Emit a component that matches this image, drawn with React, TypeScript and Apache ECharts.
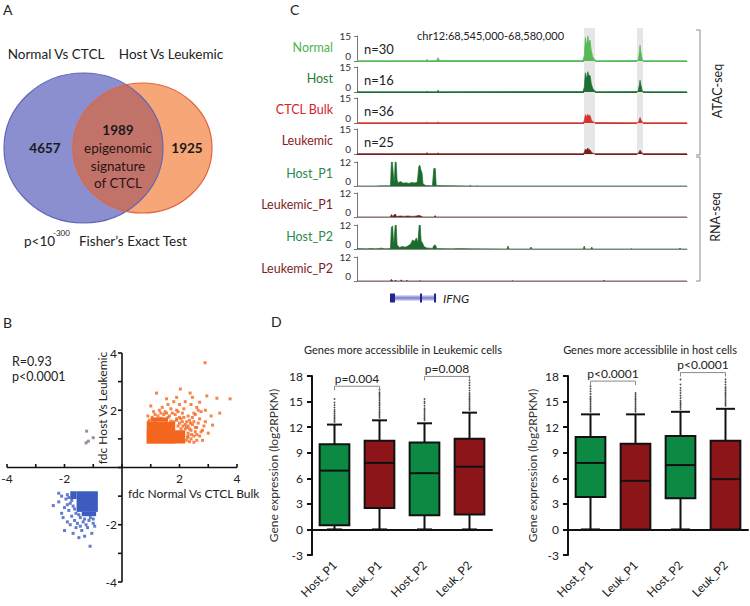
import React, { useEffect, useRef } from "react";
import * as echarts from "echarts";

const FONT = 'Lato, "Open Sans", Arial, sans-serif';

// ---------------- Panel A : Venn ----------------
const vennSetNames = ["Normal Vs CTCL", "Host Vs Leukemic"];
const vennCounts = [4657, 1989, 1925];
const vennOverlapLabel = ["epigenomic", "signature", "of CTCL"];
const vennTestText = ["p<10", "-300", "Fisher\u2019s Exact Test"];

// ---------------- Panel B : scatter ----------------
const scatterStats = ["R=0.93", "p<0.0001"];
const scatterAxisNames = ["fdc Normal Vs CTCL Bulk", "fdc Host Vs Leukemic"];
const scatterTicks = [-4, -3, -2, -1, 0, 1, 2, 3, 4];
const upCore = [
  [[0.86, 0.84], [1.85, 1.6]],
  [[0.86, 0.84], [2.2, 1.3]],
  [[1.0, 1.6], [1.6, 1.75]],
];
const upPoints = [
  [2.89, 3.66], [3.76, 2.4], [3.3, 2.42], [3.15, 1.48], [2.7, 2.28], [2.03, 2.74], [2.37, 2.6], [1.2, 2.6],
  [2.9, 2.0], [2.6, 2.1], [2.5, 1.9], [2.2, 2.3], [2.4, 2.2], [2.0, 2.2], [1.8, 2.3], [1.6, 2.2], [1.4, 2.1],
  [1.3, 2.0], [1.1, 1.95], [1.5, 1.95], [1.7, 2.05], [1.9, 2.0], [2.1, 1.9], [2.3, 1.8], [2.5, 1.6], [2.7, 1.7],
  [2.8, 1.3], [2.6, 1.4], [2.4, 1.3], [2.3, 1.1], [2.25, 0.95], [2.5, 1.1], [2.9, 1.6], [3.0, 1.2], [2.1, 1.6],
  [2.0, 1.75], [1.9, 1.7], [2.2, 1.5], [1.05, 1.75], [1.25, 1.8], [0.95, 1.65], [1.45, 1.85], [1.65, 1.8],
  [1.85, 1.85], [2.15, 2.05], [2.75, 1.95], [2.45, 2.45], [2.65, 2.0], [3.1, 1.8], [2.35, 1.65], [1.8, 1.6],
  [1.95, 1.45], [2.05, 1.35], [2.3, 1.45], [2.4, 1.0], [2.55, 1.25], [2.2, 1.35], [1.6, 1.75], [1.35, 1.72],
  [1.15, 1.62], [0.92, 1.58], [2.0, 1.55], [1.7, 1.62], [2.6, 0.95], [2.7, 1.1], [1.55, 2.4], [1.9, 2.45],
  [1.0, 2.15], [2.95, 2.5], [3.4, 1.9], [2.25, 1.4], [2.3, 1.2], [2.35, 0.9], [2.45, 1.5], [2.5, 0.88],
  [2.6, 1.15], [2.65, 1.55], [2.75, 1.25], [2.8, 0.95], [2.85, 1.45], [1.9, 1.65], [2.05, 1.7], [2.15, 1.75],
  [1.75, 1.9], [1.55, 1.9], [1.35, 1.9], [1.15, 1.85], [0.9, 1.8], [1.95, 1.95], [2.25, 1.6], [2.45, 1.75],
  [2.55, 1.85], [2.35, 1.35], [2.42, 1.15], [2.28, 1.05], [2.55, 1.4], [2.38, 1.55], [2.12, 1.45],
];
const downCore = [
  [[-1.58, -0.83], [-0.84, -1.55]],
  [[-1.8, -0.83], [-1.58, -1.1]],
  [[-1.4, -1.55], [-0.9, -1.7]],
];
const downPoints = [
  [-2.39, -1.33], [-1.11, -2.75], [-2.0, -2.2], [-1.9, -1.9], [-1.8, -2.0], [-1.7, -2.3], [-1.5, -2.45],
  [-1.3, -2.4], [-1.05, -2.3], [-1.2, -2.1], [-1.4, -2.2], [-1.6, -2.1], [-2.1, -1.6], [-2.2, -1.2],
  [-2.0, -1.4], [-1.95, -1.1], [-2.1, -1.0], [-1.85, -1.5], [-1.75, -1.7], [-1.65, -1.85], [-1.55, -1.95],
  [-1.35, -1.9], [-1.15, -1.85], [-1.0, -1.95], [-1.25, -2.0], [-1.45, -1.75], [-1.6, -1.6], [-1.8, -1.25],
  [-1.9, -1.3], [-2.05, -1.75], [-1.0, -1.8], [-1.1, -1.75], [-1.3, -1.8], [-1.5, -1.65], [-1.75, -1.15],
  [-1.9, -0.95], [-1.7, -1.35], [-1.65, -1.45], [-2.2, -0.9], [-1.85, -1.05], [-0.95, -2.05], [-1.45, -2.05],
];
const discordantPoints = [[-1.23, 1.27], [-1.17, 0.92], [-1.0, 1.04], [-1.25, 0.86]];

// ---------------- Panel C : tracks ----------------
const locusLabel = "chr12:68,545,000-68,580,000";
const locusRange = [68545, 68580];
const trackNames = ["Normal", "Host", "CTCL Bulk", "Leukemic", "Host_P1", "Leukemic_P1", "Host_P2", "Leukemic_P2"];
const trackCounts = ["n=30", "n=16", "n=36", "n=25"];
const trackMax = [15, 15, 15, 15, 12, 12, 12, 12];
const assayNames = ["ATAC-seq", "RNA-seq"];

const normalAtac = [
  [68545.0, 0.2], [68548.0, 0.2], [68552.3, 0.2], [68552.42, 1.0], [68552.55, 0.2], [68553.45, 0.3],
  [68553.6, 2.0], [68553.75, 0.3], [68568.95, 0.3], [68569.1, 3.0], [68569.22, 14.0], [68569.35, 9.0],
  [68569.48, 15.0], [68569.6, 11.0], [68569.72, 12.5], [68569.85, 6.0], [68570.0, 2.5], [68570.2, 0.8],
  [68570.4, 0.2], [68574.8, 0.3], [68574.92, 4.0], [68575.02, 9.5], [68575.12, 5.0], [68575.25, 1.0],
  [68575.4, 0.2], [68580.0, 0.2],
];
const hostAtac = [
  [68545.0, 0.2], [68548.0, 0.2], [68552.3, 0.2], [68552.42, 0.5], [68552.55, 0.2], [68553.45, 0.2],
  [68553.6, 1.0], [68553.75, 0.2], [68568.95, 0.3], [68569.1, 2.5], [68569.22, 11.5], [68569.35, 8.0],
  [68569.48, 12.2], [68569.6, 9.5], [68569.72, 10.0], [68569.85, 5.0], [68570.0, 2.2], [68570.2, 0.7],
  [68570.4, 0.2], [68574.8, 0.3], [68574.92, 3.5], [68575.02, 7.0], [68575.12, 4.0], [68575.25, 0.8],
  [68575.4, 0.2], [68580.0, 0.2],
];
const ctclAtac = [
  [68545.0, 0.2], [68548.0, 0.2], [68552.3, 0.2], [68552.42, 0.5], [68552.55, 0.2], [68553.45, 0.2],
  [68553.6, 0.6], [68553.75, 0.2], [68568.95, 0.2], [68569.1, 1.2], [68569.22, 5.0], [68569.35, 3.5],
  [68569.48, 5.2], [68569.6, 4.2], [68569.72, 4.5], [68569.85, 2.0], [68570.0, 0.8], [68570.2, 0.3],
  [68574.8, 0.2], [68574.92, 1.5], [68575.02, 3.3], [68575.12, 2.0], [68575.25, 0.5], [68575.4, 0.2],
  [68580.0, 0.2],
];
const leukAtac = [
  [68545.0, 0.2], [68548.0, 0.2], [68552.3, 0.2], [68552.42, 0.8], [68552.55, 0.2], [68553.45, 0.2],
  [68553.6, 0.6], [68553.75, 0.2], [68568.95, 0.2], [68569.1, 0.8], [68569.22, 3.0], [68569.35, 2.2],
  [68569.48, 3.6], [68569.6, 2.6], [68569.72, 2.4], [68569.85, 1.2], [68570.0, 0.5], [68570.2, 0.2],
  [68574.8, 0.2], [68574.92, 1.2], [68575.02, 2.3], [68575.12, 1.5], [68575.25, 0.4], [68575.4, 0.2],
  [68580.0, 0.2],
];
const hostP1Rna = [
  [68545.0, 0], [68547.0, 0], [68547.5, 0.1], [68548.55, 0.1], [68548.65, 12], [68548.75, 12], [68548.85, 6],
  [68548.95, 1], [68549.05, 12], [68549.15, 12], [68549.25, 3], [68549.35, 1.5], [68549.6, 2.2], [68549.9, 1.4],
  [68550.2, 1.6], [68550.5, 1.3], [68550.8, 1.7], [68551.1, 1.5], [68551.4, 1.9], [68551.55, 9.5],
  [68551.65, 10.5], [68551.78, 8], [68551.9, 6.5], [68552.0, 1], [68552.3, 0.2], [68553.0, 0.1],
  [68553.15, 8.8], [68553.3, 8.8], [68553.4, 0.2], [68556.9, 0], [68557.0, 0.4], [68557.1, 0],
  [68557.65, 0], [68557.73, 0.3], [68557.8, 0], [68580.0, 0],
];
const leukP1Rna = [
  [68545.0, 0], [68548.55, 0], [68548.65, 1.2], [68548.8, 0.3], [68549.05, 1.5], [68549.2, 0.2], [68549.6, 0.5],
  [68550.0, 0.3], [68550.4, 0.5], [68550.8, 0.3], [68551.2, 0.4], [68551.6, 0.8], [68551.8, 0.4], [68552.0, 0],
  [68553.15, 0], [68553.3, 0.7], [68553.4, 0], [68580.0, 0],
];
const hostP2Rna = [
  [68545.0, 0.2], [68546.0, 0.1], [68546.5, 0.3], [68547.0, 0.1], [68547.6, 0.4], [68548.0, 0.1], [68548.55, 0.2],
  [68548.65, 11], [68548.78, 11.5], [68548.9, 1], [68549.05, 12], [68549.15, 12], [68549.25, 2], [68549.5, 0.8],
  [68549.8, 1.2], [68550.1, 0.9], [68550.4, 1.5], [68550.7, 2.5], [68550.9, 4.5], [68551.1, 3.8], [68551.3, 5.5],
  [68551.45, 3], [68551.6, 12], [68551.7, 12], [68551.8, 4], [68551.95, 3], [68552.1, 1.2], [68552.4, 0.5],
  [68553.0, 0.3], [68553.2, 2.0], [68553.35, 1.8], [68553.45, 0.2], [68555.0, 0.1], [68556.0, 0.2], [68557.0, 0.1],
  [68560.9, 0], [68561.02, 1.5], [68561.12, 0], [68563.35, 0], [68563.45, 1.0], [68563.55, 0], [68569.0, 0],
  [68569.1, 1.5], [68569.2, 0], [68569.8, 0], [68569.9, 1.0], [68570.0, 0], [68574.0, 0], [68574.1, 0.2],
  [68574.2, 0], [68579.1, 0], [68579.26, 0.4], [68579.4, 0], [68580.0, 0],
];
const leukP2Rna = [
  [68545.0, 0], [68548.55, 0], [68548.65, 0.8], [68548.8, 0], [68549.0, 0], [68549.1, 0.5], [68549.2, 0],
  [68549.6, 0], [68549.7, 0.6], [68549.8, 0], [68550.2, 0], [68550.3, 0.4], [68550.4, 0], [68551.6, 0],
  [68551.7, 0.3], [68551.8, 0], [68561.4, 0], [68561.5, 0.3], [68561.6, 0], [68571.1, 0], [68571.2, 0.4],
  [68571.3, 0], [68580.0, 0],
];
const trackSignals = [normalAtac, hostAtac, ctclAtac, leukAtac, hostP1Rna, leukP1Rna, hostP2Rna, leukP2Rna];
const highlightRegions = [[68569.08, 68570.24], [68574.7, 68575.33]];
const geneName = "IFNG";
const geneSpan = [68548.5, 68553.38];
const geneExons = [[68548.5, 68549.03], [68551.68, 68551.89], [68553.17, 68553.38]];

// ---------------- Panel D : box plots ----------------
const boxTitles = ["Genes more accessiblile in Leukemic cells", "Genes more accessiblile in host cells"];
const boxYName = "Gene expression (log2RPKM)";
const boxCategories = ["Host_P1", "Leuk_P1", "Host_P2", "Leuk_P2"];
// [min, Q1, median, Q3, max]
const leukBoxStats = [
  [0, 0.5, 6.9, 10.0, 12.3],
  [0, 2.5, 7.8, 10.4, 12.8],
  [0, 1.65, 6.6, 10.2, 12.45],
  [0, 1.75, 7.35, 10.65, 13.7],
];
const hostBoxStats = [
  [0, 3.8, 7.8, 10.85, 13.5],
  [0, 0, 5.7, 10.05, 13.5],
  [0, 3.65, 7.55, 10.95, 13.8],
  [0, 0, 5.9, 10.4, 14.15],
];
const leukOutliers = [
  [12.6, 12.8, 13.0, 13.2, 13.4, 13.6, 13.8, 14.0, 14.3, 14.6, 14.9, 15.3],
  [13.1, 13.3, 13.5, 13.7, 13.9, 14.1, 14.3, 14.5, 14.7, 14.9, 15.1, 15.3, 15.5, 15.7, 15.9, 16.1, 16.4],
  [12.8, 13.0, 13.2, 13.4, 13.6, 13.8, 14.0, 14.2, 14.5, 14.8, 15.0, 15.3],
  [14.0, 14.2, 14.4, 14.6, 14.8, 15.0, 15.2, 15.4, 15.6, 15.8, 16.0, 16.3, 16.6, 16.9, 17.2, 17.5, 17.9],
];
const hostOutliers = [
  [13.8, 14.0, 14.2, 14.4, 14.6, 14.8, 15.0, 15.2, 15.4, 15.6, 15.9, 16.2, 16.5, 16.8],
  [13.8, 14.0, 14.2, 14.4, 14.6, 14.8, 15.0, 15.2, 15.4, 15.6, 15.8, 16.0],
  [14.1, 14.3, 14.5, 14.7, 14.9, 15.1, 15.4, 15.7, 16.0, 16.3, 16.6, 17.0, 17.6],
  [14.5, 14.7, 14.9, 15.1, 15.3, 15.5, 15.7, 15.9, 16.1, 16.3, 16.5, 16.7, 17.0, 17.3, 17.6],
];
const leukPairs = [[0, 1, 16.8], [2, 3, 17.95]];
const leukPLabels = ["p=0.004", "p=0.008"];
const hostPairs = [[0, 1, 17.4], [2, 3, 18.4]];
const hostPLabels = ["p<0.0001", "p<0.0001"];

// ---------------- styles ----------------
const trackColors = ["#55b956", "#1f6e32", "#d2352f", "#7a1c1c", "#1a6b2c", "#6e1a1a", "#1a6b2c", "#6e1a1a"];
const trackLabelColors = ["#4db34f", "#2a7a3c", "#d2232a", "#8b1c1c", "#2a8a4a", "#7b1f1f", "#2a8a4a", "#7b1f1f"];
const trackBaseline = [61, 92, 123, 154, 186, 217, 249, 281];
const boxColors = ["#0c8a43", "#8c1519", "#0c8a43", "#8c1519"];

function txt(text: string, x: number, y: number, o: any = {}) {
  const align = o.align || "center";
  const va = o.va || "middle";
  return {
    type: "text",
    x,
    y,
    rotation: o.rotation || 0,
    silent: true,
    z: 50,
    style: {
      text,
      fontSize: o.size || 12,
      fontFamily: FONT,
      fontWeight: o.weight || "normal",
      fontStyle: o.fontStyle || "normal",
      fill: o.color || "#222",
      align,
      textAlign: align,
      verticalAlign: va,
      textVerticalAlign: va,
    },
  };
}

function textEl(text: string, x: number, y: number, align: string, va: string, size = 12) {
  return {
    type: "text",
    x,
    y,
    style: {
      text,
      fontSize: size,
      fontFamily: FONT,
      fill: "#222",
      align,
      textAlign: align,
      verticalAlign: va,
      textVerticalAlign: va,
    },
  };
}

// Venn geometry
const blueE = { cx: 83.5, cy: 148, rx: 79.5, ry: 75 };
const orangeE = { cx: 142.5, cy: 148, rx: 69.5, ry: 65 };
function inside(e: any, x: number, y: number) {
  const dx = (x - e.cx) / e.rx;
  const dy = (y - e.cy) / e.ry;
  return dx * dx + dy * dy <= 1;
}
function lensPoints() {
  const a: number[][] = [];
  for (let k = 0; k <= 720; k++) {
    const t = (k / 720) * Math.PI * 2;
    const x = orangeE.cx + orangeE.rx * Math.cos(t);
    const y = orangeE.cy + orangeE.ry * Math.sin(t);
    if (inside(blueE, x, y)) a.push([x, y]);
  }
  const b: number[][] = [];
  for (let k = 0; k <= 720; k++) {
    const t = -Math.PI + (k / 720) * Math.PI * 2;
    const x = blueE.cx + blueE.rx * Math.cos(t);
    const y = blueE.cy + blueE.ry * Math.sin(t);
    if (inside(orangeE, x, y)) b.push([x, y]);
  }
  return a.concat(b);
}

function crossAxesRender(params: any, api: any) {
  const v = api.value(0);
  const lo = scatterTicks[0];
  const hi = scatterTicks[scatterTicks.length - 1];
  const ls = { stroke: "#111", lineWidth: 1.6 };
  const children: any[] = [];
  const px = api.coord([v, 0]);
  const py = api.coord([0, v]);
  children.push({ type: "line", shape: { x1: px[0], y1: px[1], x2: px[0], y2: px[1] - 3.5 }, style: ls });
  children.push({ type: "line", shape: { x1: py[0] - 4, y1: py[1], x2: py[0], y2: py[1] }, style: ls });
  if (v !== 0 && v % 2 === 0) {
    children.push(textEl(String(v), px[0], px[1] + 5, "center", "top"));
    children.push(textEl(String(v), py[0] - 5, py[1], "right", "middle"));
  }
  if (params.dataIndex === 0) {
    const a = api.coord([lo, 0]);
    const b = api.coord([hi, 0]);
    const c = api.coord([0, lo]);
    const d = api.coord([0, hi]);
    children.push({ type: "line", shape: { x1: a[0], y1: a[1], x2: b[0], y2: b[1] }, style: ls });
    children.push({ type: "line", shape: { x1: c[0], y1: c[1], x2: d[0], y2: d[1] }, style: ls });
  }
  return { type: "group", children };
}

function boxRender(capW: number) {
  return (params: any, api: any) => {
    const i = api.value(0);
    const pMin = api.coord([i, api.value(1)]);
    const pQ1 = api.coord([i, api.value(2)]);
    const pMed = api.coord([i, api.value(3)]);
    const pQ3 = api.coord([i, api.value(4)]);
    const pMax = api.coord([i, api.value(5)]);
    const band = api.size([1, 0])[0];
    const bw = band * 0.66;
    const x = pMin[0];
    const ls = { stroke: "#111", lineWidth: 2 };
    return {
      type: "group",
      children: [
        { type: "line", shape: { x1: x, y1: pMin[1], x2: x, y2: pQ1[1] }, style: ls },
        { type: "line", shape: { x1: x, y1: pQ3[1], x2: x, y2: pMax[1] }, style: ls },
        { type: "line", shape: { x1: x - capW / 2, y1: pMin[1], x2: x + capW / 2, y2: pMin[1] }, style: ls },
        { type: "line", shape: { x1: x - capW / 2, y1: pMax[1], x2: x + capW / 2, y2: pMax[1] }, style: ls },
        {
          type: "rect",
          shape: { x: x - bw / 2, y: pQ3[1], width: bw, height: Math.max(1, pQ1[1] - pQ3[1]) },
          style: { fill: boxColors[params.dataIndex], stroke: "#111", lineWidth: 2 },
        },
        { type: "line", shape: { x1: x - bw / 2, y1: pMed[1], x2: x + bw / 2, y2: pMed[1] }, style: ls },
      ],
    };
  };
}

function bracketRender(labels: string[]) {
  return (params: any, api: any) => {
    const a = api.coord([api.value(0), api.value(2)]);
    const b = api.coord([api.value(1), api.value(2)]);
    return {
      type: "group",
      children: [
        {
          type: "polyline",
          shape: { points: [[a[0], a[1] + 4], [a[0], a[1]], [b[0], b[1]], [b[0], b[1] + 4]] },
          style: { stroke: "#8a8a8a", lineWidth: 1, fill: null },
        },
        textEl(labels[params.dataIndex], (a[0] + b[0]) / 2, a[1] - 2, "center", "bottom"),
      ],
    };
  };
}

function buildOption() {
  const grids: any[] = [];
  const xAxes: any[] = [];
  const yAxes: any[] = [];
  const series: any[] = [];

  // ---- Panel B grid 0 (axes drawn crossing at zero by a custom series)
  grids.push({ left: 7, top: 353, width: 230, height: 229 });
  xAxes.push({ type: "value", gridIndex: 0, min: -4, max: 4, interval: 1, show: false });
  yAxes.push({ type: "value", gridIndex: 0, min: -4, max: 4, interval: 1, show: false });
  series.push({
    type: "custom",
    xAxisIndex: 0,
    yAxisIndex: 0,
    clip: false,
    silent: true,
    z: 4,
    data: scatterTicks.map((v) => [v]),
    encode: { x: 0 },
    renderItem: crossAxesRender,
  });
  series.push({
    type: "scatter",
    xAxisIndex: 0,
    yAxisIndex: 0,
    data: upPoints,
    symbol: "rect",
    symbolSize: 3,
    itemStyle: { color: "#f4661e" },
    markArea: {
      silent: true,
      itemStyle: { color: "#f4661e" },
      data: upCore.map((r) => [{ coord: r[0] }, { coord: r[1] }]),
    },
  });
  series.push({
    type: "scatter",
    xAxisIndex: 0,
    yAxisIndex: 0,
    data: downPoints,
    symbol: "rect",
    symbolSize: 3,
    itemStyle: { color: "#3c5cbf" },
    markArea: {
      silent: true,
      itemStyle: { color: "#3c5cbf" },
      data: downCore.map((r) => [{ coord: r[0] }, { coord: r[1] }]),
    },
  });
  series.push({
    type: "scatter",
    xAxisIndex: 0,
    yAxisIndex: 0,
    data: discordantPoints,
    symbol: "rect",
    symbolSize: 3,
    itemStyle: { color: "#8e6a8c" },
  });

  // ---- Panel C track grids 1..8
  for (let k = 0; k < 8; k++) {
    const h = k < 4 ? 25 : 24;
    const gi = grids.length;
    grids.push({ left: 357, width: 330, top: trackBaseline[k] - h, height: h });
    xAxes.push({
      type: "value",
      gridIndex: gi,
      min: locusRange[0],
      max: locusRange[1],
      axisLabel: { show: false },
      axisTick: { show: false },
      splitLine: { show: false },
      axisLine: { show: true, lineStyle: { color: k < 4 ? trackColors[k] : "#8a8a8a", width: 1 } },
    });
    yAxes.push({
      type: "value",
      gridIndex: gi,
      min: 0,
      max: trackMax[k],
      interval: trackMax[k],
      splitLine: { show: false },
      axisLine: { show: true, lineStyle: { color: "#777", width: 1 } },
      axisTick: { show: true, length: 3, lineStyle: { color: "#777" } },
      axisLabel: {
        fontSize: 10,
        lineHeight: 10,
        fontFamily: FONT,
        color: "#333",
        margin: 6,
        verticalAlignMinLabel: "bottom",
        verticalAlignMaxLabel: "middle",
      },
    });
    series.push({
      type: "line",
      xAxisIndex: gi,
      yAxisIndex: gi,
      data: trackSignals[k],
      symbol: "none",
      z: 3,
      lineStyle: { color: trackColors[k], width: 0.7 },
      areaStyle: { color: trackColors[k], opacity: 1 },
    });
  }

  // ---- highlight band grid 9
  {
    const gi = grids.length;
    grids.push({ left: 357, width: 330, top: 28, height: 127 });
    xAxes.push({ type: "value", gridIndex: gi, min: locusRange[0], max: locusRange[1], show: false });
    yAxes.push({ type: "value", gridIndex: gi, min: 0, max: 1, show: false });
    series.push({
      type: "custom",
      xAxisIndex: gi,
      yAxisIndex: gi,
      z: 1,
      silent: true,
      data: highlightRegions,
      encode: { x: [0, 1] },
      renderItem: (params: any, api: any) => {
        const a = api.coord([api.value(0), 1]);
        const b = api.coord([api.value(1), 0]);
        return { type: "rect", shape: { x: a[0], y: a[1], width: b[0] - a[0], height: b[1] - a[1] }, style: { fill: "#e6e6e6" } };
      },
    });
  }

  // ---- gene grid 10
  {
    const gi = grids.length;
    grids.push({ left: 357, width: 330, top: 292, height: 12 });
    xAxes.push({ type: "value", gridIndex: gi, min: locusRange[0], max: locusRange[1], show: false });
    yAxes.push({ type: "value", gridIndex: gi, min: 0, max: 1, show: false });
    series.push({
      type: "custom",
      xAxisIndex: gi,
      yAxisIndex: gi,
      silent: true,
      data: [geneSpan, ...geneExons],
      encode: { x: [0, 1] },
      renderItem: (params: any, api: any) => {
        const s = api.coord([api.value(0), 0.5]);
        const e = api.coord([api.value(1), 0.5]);
        if (params.dataIndex === 0) {
          const label: any = textEl(geneName, e[0] + 7, s[1], "left", "middle");
          label.style.fontStyle = "italic";
          return {
            type: "group",
            children: [
              { type: "rect", shape: { x: s[0], y: s[1] - 2.5, width: e[0] - s[0], height: 5 }, style: { fill: "#aeaee2" } },
              { type: "line", shape: { x1: s[0], y1: s[1], x2: e[0], y2: e[1] }, style: { stroke: "#6b6bc0", lineWidth: 1 } },
              label,
            ],
          };
        }
        return {
          type: "rect",
          shape: { x: s[0], y: s[1] - 4.5, width: Math.max(2, e[0] - s[0]), height: 9 },
          style: { fill: "#24248f" },
        };
      },
    });
  }

  // ---- Panel D grids 11, 12
  const dPanels = [
    { left: 312, stats: leukBoxStats, out: leukOutliers, pairs: leukPairs, labels: leukPLabels, cap: 15, gap: 33 },
    { left: 568, stats: hostBoxStats, out: hostOutliers, pairs: hostPairs, labels: hostPLabels, cap: 19, gap: 30 },
  ];
  dPanels.forEach((p) => {
    const gi = grids.length;
    grids.push({ left: p.left, top: 376, width: 180, height: 179 });
    xAxes.push({
      type: "category",
      gridIndex: gi,
      data: boxCategories,
      axisLine: { lineStyle: { color: "#111", width: 2 } },
      axisTick: { alignWithLabel: true, length: 5, lineStyle: { color: "#111", width: 2 } },
      axisLabel: { rotate: 45, fontSize: 12, fontFamily: FONT, color: "#222", margin: 8 },
    });
    yAxes.push({
      type: "value",
      gridIndex: gi,
      min: -3,
      max: 18,
      interval: 3,
      splitLine: { show: false },
      axisLine: { show: true, lineStyle: { color: "#111", width: 2 } },
      axisTick: { show: true, length: 5, lineStyle: { color: "#111", width: 2 } },
      axisLabel: { fontSize: 12, fontFamily: FONT, color: "#222", margin: 9 },
      name: boxYName,
      nameLocation: "middle",
      nameGap: p.gap,
      nameTextStyle: { fontSize: 12, fontFamily: FONT, color: "#333" },
    });
    series.push({
      type: "scatter",
      xAxisIndex: gi,
      yAxisIndex: gi,
      symbol: "circle",
      symbolSize: 1.8,
      itemStyle: { color: "#222" },
      z: 2,
      data: p.out.flatMap((vals, i) => vals.map((v) => [i, v])),
    });
    series.push({
      type: "custom",
      xAxisIndex: gi,
      yAxisIndex: gi,
      z: 3,
      data: p.stats.map((s, i) => [i, ...s]),
      encode: { x: 0, y: [1, 2, 3, 4, 5] },
      renderItem: boxRender(p.cap),
    });
    series.push({
      type: "custom",
      xAxisIndex: gi,
      yAxisIndex: gi,
      z: 3,
      clip: false,
      data: p.pairs,
      encode: { x: [0, 1], y: 2 },
      renderItem: bracketRender(p.labels),
    });
  });

  // ---- graphic
  const g: any[] = [];
  g.push(txt("A", 3, 9, { size: 14, align: "left" }));
  g.push(txt("B", 3, 322, { size: 14, align: "left" }));
  g.push(txt("C", 290, 9, { size: 14, align: "left" }));
  g.push(txt("D", 271, 321, { size: 14, align: "left" }));

  // Venn
  g.push({ type: "ellipse", silent: true, shape: blueE, style: { fill: "#8b8fd0" } });
  g.push({ type: "ellipse", silent: true, shape: orangeE, style: { fill: "#f7a677" } });
  g.push({ type: "polygon", silent: true, shape: { points: lensPoints() }, style: { fill: "#c17369" } });
  g.push({ type: "ellipse", silent: true, shape: blueE, style: { fill: null, stroke: "#6167b8", lineWidth: 1.2 } });
  g.push({ type: "ellipse", silent: true, shape: orangeE, style: { fill: null, stroke: "#e0653d", lineWidth: 1.2 } });
  g.push(txt(vennSetNames[0], 56, 54, { size: 13.5 }));
  g.push(txt(vennSetNames[1], 171, 54, { size: 13.5 }));
  g.push(txt(String(vennCounts[0]), 45, 148, { size: 13.5, weight: "bold", color: "#1a1a1a" }));
  g.push(txt(String(vennCounts[1]), 118, 130, { size: 13.5, weight: "bold", color: "#1a1a1a" }));
  g.push(txt(String(vennCounts[2]), 187, 148, { size: 13.5, weight: "bold", color: "#1a1a1a" }));
  vennOverlapLabel.forEach((s, i) => g.push(txt(s, 118, 148 + i * 17.5, { size: 13.5, color: "#2a1414" })));
  g.push(txt(vennTestText[0], 24, 241, { size: 13.5, align: "left" }));
  g.push(txt(vennTestText[1], 53, 233, { size: 8, align: "left" }));
  g.push(txt(vennTestText[2], 79, 241, { size: 13.5, align: "left" }));

  // Panel B texts
  g.push(txt(scatterStats[0], 12, 361, { size: 12.5, align: "left" }));
  g.push(txt(scatterStats[1], 12, 376, { size: 12.5, align: "left" }));
  g.push(txt(scatterAxisNames[0], 128, 493, { size: 12, align: "left" }));
  g.push(txt(scatterAxisNames[1], 102, 408, { size: 12, rotation: Math.PI / 2 }));

  // Panel C texts
  trackNames.forEach((n, k) => {
    const h = k < 4 ? 26 : 25;
    g.push(txt(n, 333, trackBaseline[k] - h / 2 - 0.5, { size: 12.5, align: "right", color: trackLabelColors[k] }));
  });
  trackCounts.forEach((n, k) => g.push(txt(n, 364, trackBaseline[k] - 12, { size: 13, align: "left" })));
  g.push(txt(locusLabel, 417, 35, { size: 11, align: "left" }));
  g.push({
    type: "polyline",
    silent: true,
    shape: { points: [[696, 30], [700, 30], [700, 155], [696, 155]] },
    style: { stroke: "#8a8a8a", lineWidth: 1, fill: null },
  });
  g.push({
    type: "polyline",
    silent: true,
    shape: { points: [[696, 157], [700, 157], [700, 281], [696, 281]] },
    style: { stroke: "#8a8a8a", lineWidth: 1, fill: null },
  });
  g.push(txt(assayNames[0], 717, 91, { size: 12.5, rotation: Math.PI / 2 }));
  g.push(txt(assayNames[1], 715, 217, { size: 12.5, rotation: Math.PI / 2 }));

  // Panel D titles
  g.push(txt(boxTitles[0], 403, 349, { size: 11 }));
  g.push(txt(boxTitles[1], 650, 349, { size: 11 }));

  return {
    animation: false,
    backgroundColor: "#ffffff",
    grid: grids,
    xAxis: xAxes,
    yAxis: yAxes,
    series,
    graphic: { elements: g },
  };
}

export default function App() {
  const ref = useRef<HTMLDivElement>(null);
  useEffect(() => {
    document.body.style.margin = "0";
    if (!ref.current) return;
    const chart = echarts.init(ref.current, undefined, { renderer: "svg" });
    chart.setOption(buildOption() as any);
    return () => chart.dispose();
  }, []);
  return <div ref={ref} style={{ width: 750, height: 606 }} />;
}
